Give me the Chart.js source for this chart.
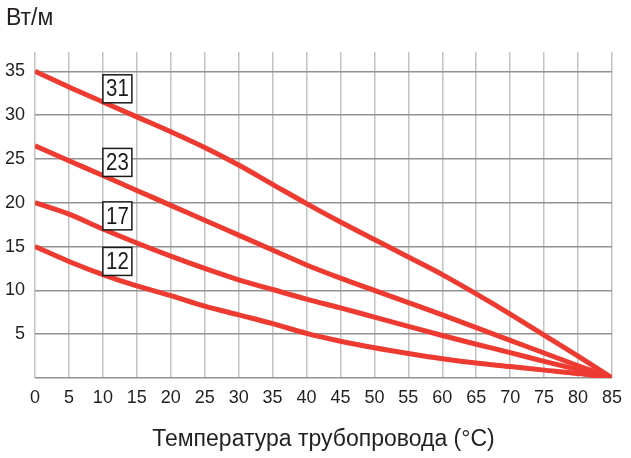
<!DOCTYPE html>
<html>
<head>
<meta charset="utf-8">
<script src="https://cdn.jsdelivr.net/npm/chart.js@4.4.0/dist/chart.umd.min.js"></script>
<style>
  body { margin: 0; background: #fff; }
  #chart { display: block; }
</style>
</head>
<body>
<canvas id="chart" width="631" height="458"></canvas>
<script>
// температура трубопровода, °C
var temps = [0, 5, 10, 15, 20, 25, 30, 35, 40, 45, 50, 55, 60, 65, 70, 75, 80, 85];
// мощность кабеля, Вт/м
var cable31 = [35, 33.2, 31.5, 29.8, 28.1, 26.3, 24.3, 22.1, 19.9, 17.8, 15.8, 13.8, 11.8, 9.6, 7.3, 4.9, 2.5, 0];
var cable23 = [26.5, 24.8, 23.1, 21.4, 19.7, 18.0, 16.3, 14.6, 12.9, 11.4, 10.0, 8.6, 7.2, 5.75, 4.3, 2.85, 1.4, 0];
var cable17 = [20, 18.7, 17.0, 15.4, 13.9, 12.5, 11.2, 10.1, 9.0, 8.0, 6.95, 5.9, 4.85, 3.85, 2.9, 1.9, 0.95, 0];
var cable12 = [15, 13.3, 11.8, 10.5, 9.4, 8.2, 7.2, 6.2, 5.1, 4.2, 3.45, 2.8, 2.2, 1.7, 1.3, 0.9, 0.5, 0];
var yTicks = [0, 5, 10, 15, 20, 25, 30, 35];
var seriesNames = ['31', '23', '17', '12'];
// где стоят рамки с номерами (в единицах графика)
var boxAt = [[10, 33.0], [10, 24.6], [10, 18.5], [10, 13.3]];

var RED = '#ee3b32';
var FONT = "'Liberation Sans', Arial, sans-serif";

function pts(vals) {
    return temps.map(function(t, i) { return { x: t, y: vals[i] }; });
}

function makeSet(name, vals) {
    return {
        label: name,
        data: pts(vals),
        borderColor: RED,
        borderWidth: 5,
        pointRadius: 0,
        fill: false,
        cubicInterpolationMode: 'monotone'
    };
}

var extras = {
    id: 'extras',
    afterDatasetsDraw: function(chart) {
        var ctx = chart.ctx;
        var xs = chart.scales.x, ys = chart.scales.y;
        ctx.save();
        seriesNames.forEach(function(n, i) {
            var left = xs.getPixelForValue(boxAt[i][0]);
            var cy = ys.getPixelForValue(boxAt[i][1]);
            ctx.fillStyle = '#fff';
            ctx.fillRect(left, cy - 14, 29, 28);
            ctx.strokeStyle = '#1a1a1a';
            ctx.lineWidth = 1.5;
            ctx.strokeRect(left, cy - 14, 29, 28);
            // узкие цифры в рамке
            ctx.save();
            ctx.translate(left + 14.5, cy + 1);
            ctx.scale(0.85, 1);
            ctx.font = '24px ' + FONT;
            ctx.textAlign = 'center';
            ctx.textBaseline = 'middle';
            ctx.fillStyle = '#1a1a1a';
            ctx.fillText(n, 0, 0);
            ctx.restore();
        });
        // единицы по оси Y
        ctx.textAlign = 'left';
        ctx.textBaseline = 'middle';
        ctx.font = '23px ' + FONT;
        ctx.fillStyle = '#231f20';
        ctx.fillText('Вт/м', 6, 19);
        ctx.restore();
    }
};

new Chart(document.getElementById('chart'), {
    type: 'line',
    data: {
        datasets: [makeSet('31', cable31), makeSet('23', cable23), makeSet('17', cable17), makeSet('12', cable12)]
    },
    options: {
        responsive: false,
        devicePixelRatio: 1,
        animation: false,
        layout: { padding: { top: 52, right: 18, left: 0, bottom: 0 } },
        plugins: { legend: { display: false }, tooltip: { enabled: false } },
        scales: {
            x: {
                type: 'linear',
                min: 0,
                max: 85,
                afterFit: function(s) { s.height = 80; },
                grid: { color: '#c2c2c2', lineWidth: 1.5, drawTicks: false },
                border: { display: false },
                ticks: {
                    stepSize: 5,
                    padding: 9,
                    color: '#231f20',
                    font: { family: FONT, size: 18 }
                },
                title: {
                    display: true,
                    text: 'Температура трубопровода (°C)',
                    color: '#231f20',
                    font: { family: FONT, size: 23 },
                    padding: { top: 0, bottom: 5 }
                }
            },
            y: {
                min: 0,
                max: 37.2,
                afterFit: function(s) { s.width = 35; },
                afterBuildTicks: function(s) {
                    s.ticks = yTicks.map(function(v) { return { value: v }; });
                },
                grid: { color: '#929292', lineWidth: 1.5, drawTicks: false },
                border: { display: false },
                ticks: {
                    padding: 10,
                    color: '#231f20',
                    font: { family: FONT, size: 18 },
                    callback: function(v) { return v === 0 ? '' : v; }
                }
            }
        }
    },
    plugins: [extras]
});
</script>
</body>
</html>
